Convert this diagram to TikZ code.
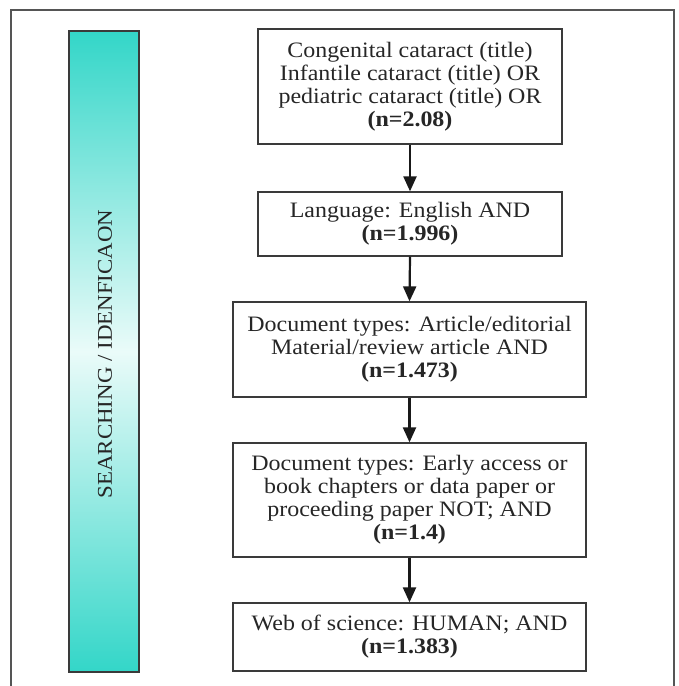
\documentclass[tikz,border=0pt]{standalone}
\usepackage{fontspec}
\setmainfont{Liberation Serif}[FakeStretch=1.09]
\usetikzlibrary{arrows.meta}
\definecolor{turq}{HTML}{33D6C8}
\definecolor{turqlight}{HTML}{EAFBF9}
\definecolor{framegray}{HTML}{555555}
\definecolor{boxline}{HTML}{3A3A3A}
\tikzset{
  flowbox/.style={draw=boxline, line width=1.3pt, align=center, inner sep=0pt,
    font=\fontsize{22}{23}\selectfont, text=black!85},
  flowarrow/.style={-{Triangle[length=15pt,width=13pt]}, line width=2.2pt, draw=black!90},
}
\begin{document}
\begin{tikzpicture}[x=1pt,y=-1pt]
\useasboundingbox (0,0) rectangle (678,686);
% outer frame (open at bottom)
\draw[framegray, line width=1.5pt] (11,686) -- (11,10) -- (674,10) -- (674,686);
% side bar
\shade[top color=turq, bottom color=turq, middle color=turqlight] (69,31) rectangle (139,672);
\draw[boxline, line width=1.2pt] (69,31) rectangle (139,672);
\node[rotate=90, font=\fontsize{21}{24}\selectfont, text=black!85] (side) at (105,354) {SEARCHING / IDENFICAON};
% boxes
\node[flowbox, minimum width=304pt, minimum height=115pt] (b1) at (410,86.5)
  {Congenital cataract (title)\\Infantile cataract (title) OR\\pediatric cataract (title) OR\\\textbf{(n=2.08)}};
\node[flowbox, minimum width=304pt, minimum height=64pt] (b2) at (410,224)
  {Language: English AND\\\textbf{(n=1.996)}};
\node[flowbox, minimum width=353pt, minimum height=95pt] (b3) at (409.5,349.5)
  {Document types: Article/editorial\\Material/review article AND\\\textbf{(n=1.473)}};
\node[flowbox, minimum width=353pt, minimum height=114pt] (b4) at (409.5,500)
  {Document types: Early access or\\book chapters or data paper or\\proceeding paper NOT; AND\\\textbf{(n=1.4)}};
\node[flowbox, minimum width=353pt, minimum height=68pt] (b5) at (409.5,637)
  {Web of science: HUMAN; AND\\\textbf{(n=1.383)}};
% arrows
\draw[flowarrow] (b1.south) -- (b2.north);
\draw[flowarrow] (b2.south) -- (b3.north);
\draw[flowarrow] (b3.south) -- (b4.north);
\draw[flowarrow] (b4.south) -- (b5.north);
\end{tikzpicture}
\end{document}
